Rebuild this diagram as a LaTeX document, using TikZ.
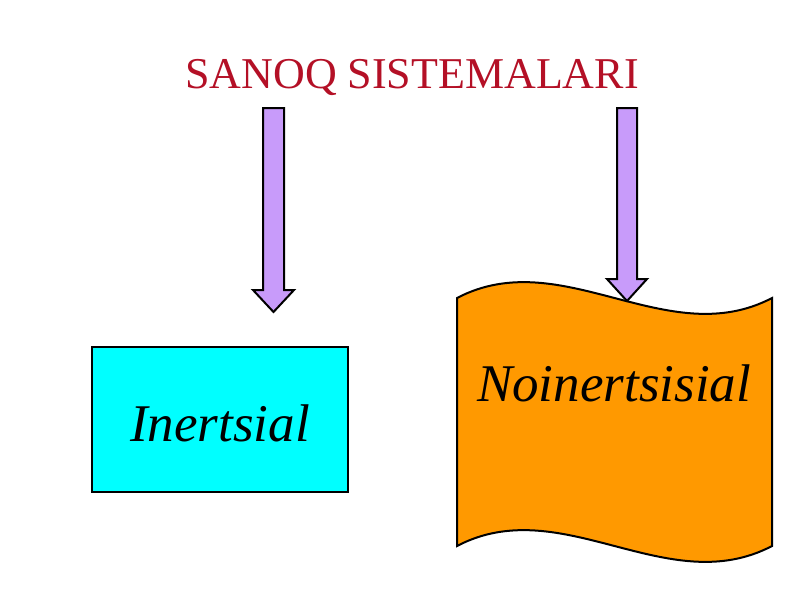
\documentclass[tikz,border=0pt]{standalone}
\usepackage{fontspec}
\setmainfont{Liberation Serif}
\definecolor{titlered}{RGB}{180,16,38}
\definecolor{lav}{RGB}{200,155,250}
\definecolor{boxcyan}{RGB}{0,255,255}
\definecolor{boxorange}{RGB}{255,153,0}
\begin{document}
\begin{tikzpicture}[x=1pt,y=-1pt,
  blockarrow/.style={draw=black,line width=2pt,fill=lav,line join=miter},
  panel/.style={draw=black,line width=2pt},
  lbl/.style={font=\fontsize{53}{60}\selectfont\itshape,text=black}]
\useasboundingbox[fill=white] (0,0) rectangle (800,600);
\node[font=\fontsize{44}{50}\selectfont,text=titlered] (title) at (412,77) {SANOQ SISTEMALARI};
% left block arrow
\draw[blockarrow] (263,108) -- (284,108) -- (284,290) -- (294,290) -- (273.5,312) -- (253,290) -- (263,290) -- cycle;
% cyan box
\node[panel,fill=boxcyan,minimum width=256pt,minimum height=145pt,inner sep=0pt] (iner) at (220,419.5) {};
\node[lbl] (inertxt) at (220,423) {Inertsial};
% wavy panel
\draw[panel,fill=boxorange] (457,298) .. controls (562,243) and (667,353) .. (772,298)
  -- (772,546) .. controls (667,601) and (562,491) .. (457,546) -- cycle;
\node[lbl] (noin) at (614,383) {Noinertsisial};
% right block arrow
\draw[blockarrow] (617,108) -- (637,108) -- (637,279) -- (647,279) -- (627,301) -- (607,279) -- (617,279) -- cycle;
\end{tikzpicture}
\end{document}
